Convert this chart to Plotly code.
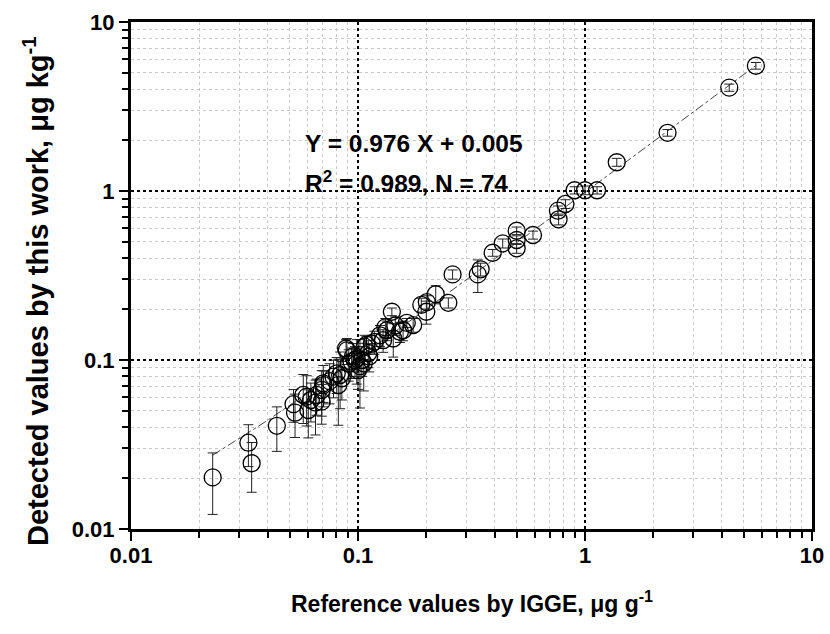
import numpy as np
import plotly.graph_objects as go

# Reference values by IGGE (x), detected values (y), and y error
ref_x = [5.66, 4.32, 2.31, 1.38, 1.13, 1.00, 0.90, 0.82, 0.76, 0.765,
         0.59, 0.50, 0.50, 0.50, 0.434, 0.392, 0.347, 0.337, 0.261, 0.25,
         0.22, 0.201, 0.19, 0.20, 0.141, 0.164, 0.175, 0.153, 0.134, 0.143,
         0.129, 0.132, 0.107, 0.109, 0.0893, 0.0886, 0.111, 0.0987, 0.097, 0.106,
         0.100, 0.0937, 0.102, 0.0806, 0.0849, 0.0834, 0.0703, 0.0819, 0.078, 0.0692,
         0.0692, 0.0658, 0.0574, 0.0594, 0.052, 0.0528, 0.0604, 0.0439, 0.034, 0.0329,
         0.0229, 0.0705, 0.065, 0.118, 0.115, 0.095, 0.104, 0.091, 0.112, 0.125,
         0.146, 0.158, 0.075, 0.062]
det_y = [5.51, 4.09, 2.21, 1.48, 1.01, 1.01, 1.01, 0.838, 0.765, 0.68,
         0.549, 0.582, 0.513, 0.458, 0.49, 0.431, 0.344, 0.321, 0.321, 0.218,
         0.245, 0.22, 0.212, 0.193, 0.193, 0.166, 0.161, 0.147, 0.15, 0.134,
         0.131, 0.156, 0.12, 0.123, 0.114, 0.117, 0.11, 0.102, 0.1, 0.0956,
         0.087, 0.0977, 0.092, 0.0834, 0.078, 0.0815, 0.0728, 0.0711, 0.0797, 0.0665,
         0.0567, 0.0621, 0.0621, 0.0607, 0.0548, 0.0488, 0.0506, 0.0408, 0.0245, 0.0324,
         0.0202, 0.0711, 0.056, 0.128, 0.125, 0.105, 0.1, 0.095, 0.105, 0.14,
         0.16, 0.15, 0.075, 0.058]
y_err = [0.25, 0.2, 0.1, 0.08, 0.05, 0.06, 0.05, 0.05, 0.05, 0.05,
         0.03, 0.03, 0.03, 0.03, 0.03, 0.02, 0.03, 0.07, 0.02, 0.015,
         0.03, 0.02, 0.02, 0.03, 0.01, 0.01, 0.015, 0.02, 0.02, 0.03,
         0.02, 0.02, 0.02, 0.015, 0.02, 0.015, 0.02, 0.03, 0.02, 0.03,
         0.02, 0.02, 0.04, 0.02, 0.02, 0.03, 0.02, 0.03, 0.02, 0.02,
         0.015, 0.015, 0.02, 0.02, 0.012, 0.014, 0.016, 0.012, 0.008, 0.009,
         0.008, 0.015, 0.02, 0.02, 0.015, 0.02, 0.02, 0.02, 0.02, 0.02,
         0.02, 0.02, 0.02, 0.015]

slope = 0.976
intercept = 0.005

major_vals = [0.01, 0.1, 1, 10]
major_text = ["0.01", "0.1", "1", "10"]
minor_vals = [m * d for d in [0.01, 0.1, 1] for m in range(2, 10)]

fit_x = np.logspace(np.log10(min(ref_x)), np.log10(max(ref_x)), 50)
fit_y = slope * fit_x + intercept

FONT = "Liberation Sans, Arial, sans-serif"

fig = go.Figure()
fig.add_trace(go.Scatter(
    x=fit_x, y=fit_y, mode="lines",
    line=dict(color="#444", width=1, dash="dashdot"),
    showlegend=False, hoverinfo="skip"))
fig.add_trace(go.Scatter(
    x=ref_x, y=det_y, mode="markers",
    marker=dict(symbol="circle-open", size=17, color="black", line=dict(width=1.3, color="black")),
    error_y=dict(type="data", array=y_err, visible=True, color="#222", thickness=1, width=5),
    showlegend=False))

axis_common = dict(
    type="log", range=[-2, 1], automargin=False,
    tickmode="array", tickvals=major_vals,
    ticktext=["<b>%s</b>" % t for t in major_text],
    tickfont=dict(family=FONT, size=22, color="black", weight="bold"),
    ticks="outside", ticklen=9, tickwidth=2, tickcolor="black",
    showline=True, linewidth=3, linecolor="black", mirror=True,
    showgrid=True, gridcolor="black", gridwidth=1.5, griddash="dot",
    zeroline=False,
    minor=dict(tickmode="array", tickvals=minor_vals, ticks="outside", ticklen=6,
               tickwidth=2, tickcolor="black", showgrid=True,
               gridcolor="#c8c8c8", gridwidth=1, griddash="dot"),
)
fig.update_xaxes(**axis_common, ticklabelstandoff=-4)
fig.update_yaxes(**axis_common)

annotations = [
    dict(text="<b>Y = 0.976 X + 0.005</b>", xref="paper", yref="paper",
         x=(303 - 131) / 681, y=(529 - 143) / 507, xanchor="left", yanchor="middle",
         showarrow=False, font=dict(size=24.5, color="black")),
    dict(text="<b>R<sup>2</sup> = 0.989, N = 74</b>", xref="paper", yref="paper",
         x=(303 - 131) / 681, y=(529 - 182) / 507, xanchor="left", yanchor="middle",
         showarrow=False, font=dict(size=24.5, color="black")),
    dict(text="<b>Reference values by IGGE, μg g<sup>-1</sup></b>", xref="paper", yref="paper",
         x=0.5, y=(529 - 602) / 507, xanchor="center", yanchor="middle",
         showarrow=False, font=dict(size=23, color="black")),
    dict(text="<b>Detected values by this work, μg kg<sup>-1</sup></b>", xref="paper", yref="paper",
         x=(36 - 131) / 681, y=(529 - 291) / 507, xanchor="center", yanchor="middle",
         textangle=-90, showarrow=False, font=dict(size=29, color="black")),
]

fig.update_layout(
    width=830, height=634,
    margin=dict(l=131, r=18, t=22, b=105),
    plot_bgcolor="white", paper_bgcolor="white",
    font=dict(family=FONT, color="black"),
    annotations=annotations,
)

fig.write_html("out.html")
